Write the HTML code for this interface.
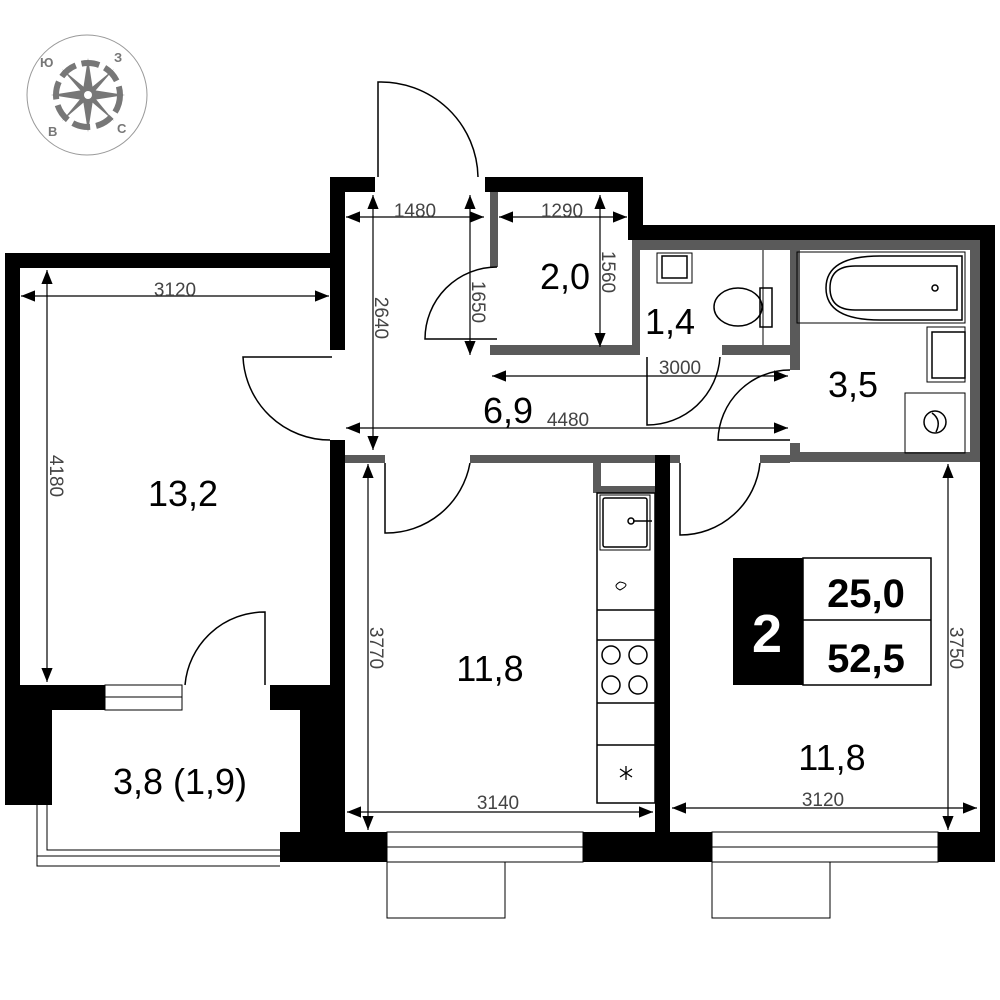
<!DOCTYPE html>
<html><head><meta charset="utf-8"><style>
html,body{margin:0;padding:0;background:#fff}
svg{display:block}
text{font-family:"Liberation Sans","DejaVu Sans",sans-serif}
</style></head><body>
<svg width="1000" height="1000" viewBox="0 0 1000 1000" xmlns="http://www.w3.org/2000/svg">
<defs>
<marker id="a" viewBox="0 0 10 10" refX="10" refY="5" markerWidth="14" markerHeight="14" markerUnits="userSpaceOnUse" orient="auto-start-reverse"><path d="M0,1 L10,5 L0,9 Z" fill="#000"/></marker>
</defs>
<circle cx="87" cy="95" r="60" fill="none" stroke="#999" stroke-width="1"/>
<g fill="#777" stroke="none">
<circle cx="88" cy="95" r="32" fill="none" stroke="#777" stroke-width="6" stroke-dasharray="18 6"/>
<path d="M88,58 L93,90 L88,95 L83,90 Z M88,132 L93,100 L88,95 L83,100 Z M51,95 L83,90 L88,95 L83,100 Z M125,95 L93,90 L88,95 L93,100 Z"/>
<path d="M62,69 L90,92 L86,97 Z M114,69 L86,92 L90,97 Z M62,121 L86,92 L90,97 Z M114,121 L90,92 L86,97 Z"/>
<circle cx="88" cy="95" r="8"/>
</g>
<circle cx="88" cy="95" r="4" fill="#fff"/>
<g fill="#777" font-size="13" font-weight="bold">
<text x="40" y="67">Ю</text><text x="114" y="62">З</text><text x="48" y="136">В</text><text x="117" y="133">С</text>
</g>
<g fill="#000">
<rect x="5" y="253" width="15" height="432"/>
<rect x="5" y="253" width="340" height="15"/>
<rect x="330" y="177" width="15" height="173"/>
<rect x="330" y="177" width="45" height="15"/>
<rect x="485" y="177" width="158" height="15"/>
<rect x="628" y="177" width="15" height="63"/>
<rect x="628" y="225" width="367" height="15"/>
<rect x="980" y="225" width="15" height="637"/>
<rect x="330" y="440" width="15" height="422"/>
<rect x="655" y="455" width="15" height="407"/>
<rect x="5" y="685" width="47" height="120"/>
<rect x="52" y="685" width="53" height="25"/>
<rect x="270" y="685" width="60" height="25"/>
<rect x="300" y="685" width="45" height="177"/>
<rect x="280" y="832" width="107" height="30"/>
<rect x="583" y="832" width="129" height="30"/>
<rect x="938" y="832" width="57" height="30"/>
<rect x="733" y="558" width="70" height="127"/>
</g>
<g fill="#5a5a5a">
<rect x="490" y="192" width="8" height="75"/>
<rect x="490" y="345" width="142" height="10"/>
<rect x="632" y="240" width="8" height="115"/>
<rect x="640" y="240" width="340" height="10"/>
<rect x="722" y="345" width="75" height="10"/>
<rect x="790" y="240" width="10" height="130"/>
<rect x="790" y="443" width="10" height="19"/>
<rect x="790" y="452" width="190" height="10"/>
<rect x="970" y="240" width="10" height="222"/>
<rect x="345" y="455" width="40" height="8"/>
<rect x="470" y="455" width="185" height="8"/>
<rect x="670" y="455" width="10" height="8"/>
<rect x="760" y="455" width="30" height="8"/>
<rect x="593" y="455" width="8" height="38"/>
<rect x="593" y="486" width="62" height="7"/>
</g>
<g fill="none" stroke="#000" stroke-width="1.5">
<line x1="763" y1="250" x2="763" y2="345" stroke-width="1"/>
<rect x="797" y="252" width="168" height="71" stroke-width="1"/>
<path d="M880,256 H962 V320 H880 Q826,320 826,288 Q826,256 880,256 Z"/>
<path d="M855,266 H957 V310 H855 Q830,310 830,288 Q830,266 855,266 Z"/>
<circle cx="935" cy="288" r="3"/>
<rect x="927" y="327" width="38" height="55" stroke-width="1"/>
<rect x="932" y="332" width="33" height="46"/>
<rect x="905" y="393" width="60" height="60" stroke-width="1"/>
<circle cx="935" cy="422" r="11"/>
<path d="M932,413 Q942,420 936,432"/>
<rect x="657" y="253" width="35" height="30" stroke-width="1"/>
<rect x="662" y="256" width="25" height="22"/>
<ellipse cx="738" cy="307" rx="24" ry="19"/>
<rect x="760" y="288" width="12" height="39"/>
<path d="M378,177 V82 A97,97 0 0 1 478,177"/>
<path d="M497,267 A72,72 0 0 0 425,339 H497"/>
<path d="M647,357 V425 A73,73 0 0 0 720,357"/>
<path d="M790,370 A72,72 0 0 0 718,440 H790"/>
<path d="M332,357 H243 A87,87 0 0 0 330,440"/>
<path d="M385,463 V533 A85,85 0 0 0 470,463"/>
<path d="M680,463 V535 A80,80 0 0 0 760,463"/>
<path d="M265,685 V612 A80,80 0 0 0 185,685"/>
<rect x="597" y="493" width="58" height="310" stroke-width="1.5"/>
<rect x="600" y="495" width="50" height="55" stroke-width="1"/>
<rect x="603" y="498" width="44" height="49" rx="2"/>
<line x1="633" y1="521" x2="652" y2="521"/>
<circle cx="631" cy="521" r="3"/>
<line x1="597" y1="610" x2="655" y2="610"/>
<line x1="597" y1="640" x2="655" y2="640"/>
<line x1="597" y1="703" x2="655" y2="703"/>
<line x1="597" y1="745" x2="655" y2="745"/>
<path d="M620,582 Q632,584 620,590 Q612,586 620,582 Z" stroke-width="1"/>
<circle cx="611" cy="655" r="9"/><circle cx="638" cy="655" r="9"/>
<circle cx="611" cy="685" r="9"/><circle cx="638" cy="685" r="9"/>
<path d="M626,766 V780 M620,769 L632,777 M632,769 L620,777" stroke-width="1.3"/>
<rect x="105" y="685" width="77" height="25" stroke-width="1"/>
<line x1="105" y1="697" x2="182" y2="697" stroke-width="1"/>
<rect x="387" y="832" width="196" height="30" stroke-width="1"/>
<line x1="387" y1="847" x2="583" y2="847" stroke-width="1"/>
<rect x="387" y="862" width="118" height="56" stroke-width="1"/>
<rect x="712" y="832" width="226" height="30" stroke-width="1"/>
<line x1="712" y1="847" x2="938" y2="847" stroke-width="1"/>
<rect x="712" y="862" width="118" height="56" stroke-width="1"/>
<path d="M37,805 V866 H280 M47,805 V850 H280 M37,856 H280" stroke-width="1"/>
<rect x="803" y="558" width="128" height="127" stroke-width="1.5"/>
<line x1="803" y1="620" x2="931" y2="620"/>
</g>
<g stroke="#000" stroke-width="1.2" marker-start="url(#a)" marker-end="url(#a)">
<line x1="346" y1="217" x2="484" y2="217"/>
<line x1="499" y1="217" x2="627" y2="217"/>
<line x1="600" y1="195" x2="600" y2="347"/>
<line x1="470" y1="195" x2="470" y2="355"/>
<line x1="373" y1="195" x2="373" y2="450"/>
<line x1="492" y1="376" x2="788" y2="376"/>
<line x1="346" y1="428" x2="788" y2="428"/>
<line x1="21" y1="296" x2="329" y2="296"/>
<line x1="47" y1="270" x2="47" y2="682"/>
<line x1="368" y1="464" x2="368" y2="830"/>
<line x1="347" y1="812" x2="653" y2="812"/>
<line x1="672" y1="808" x2="977" y2="808"/>
<line x1="948" y1="464" x2="948" y2="830"/>
</g>
<g fill="#444" font-size="19" font-family="'DejaVu Sans Condensed','Liberation Sans',sans-serif">
<text x="415" y="217" text-anchor="middle">1480</text>
<text x="562" y="217" text-anchor="middle">1290</text>
<text x="175" y="296" text-anchor="middle">3120</text>
<text x="680" y="374" text-anchor="middle">3000</text>
<text x="568" y="426" text-anchor="middle">4480</text>
<text x="498" y="809" text-anchor="middle">3140</text>
<text x="823" y="806" text-anchor="middle">3120</text>
<text transform="translate(602,272) rotate(90)" text-anchor="middle">1560</text>
<text transform="translate(472,302) rotate(90)" text-anchor="middle">1650</text>
<text transform="translate(375,318) rotate(90)" text-anchor="middle">2640</text>
<text transform="translate(50,476) rotate(90)" text-anchor="middle">4180</text>
<text transform="translate(370,648) rotate(90)" text-anchor="middle">3770</text>
<text transform="translate(950,648) rotate(90)" text-anchor="middle">3750</text>
</g>
<g fill="#000" font-size="36" text-anchor="middle">
<text x="565" y="289">2,0</text>
<text x="670" y="334">1,4</text>
<text x="853" y="397">3,5</text>
<text x="508" y="423">6,9</text>
<text x="183" y="506">13,2</text>
<text x="490" y="681">11,8</text>
<text x="832" y="770">11,8</text>
<text x="180" y="794">3,8 (1,9)</text>
</g>
<g font-weight="bold" text-anchor="middle">
<text x="767" y="652" font-size="54" fill="#fff">2</text>
<text x="866" y="607" font-size="40">25,0</text>
<text x="866" y="672" font-size="40">52,5</text>
</g>
</svg>
</body></html>
